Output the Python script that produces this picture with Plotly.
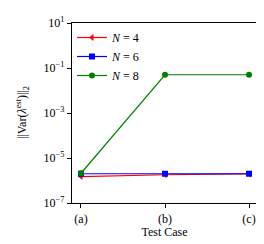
import plotly.graph_objects as go

cases = ["(a)", "(b)", "(c)"]
n4 = [1.5e-6, 1.8e-6, 1.95e-6]
n6 = [2.0e-6, 2.0e-6, 2.0e-6]
n8 = [2.1e-6, 0.05, 0.05]
ytick_vals = [1e-7, 1e-5, 1e-3, 1e-1, 1e1]
ytick_text = ["10<sup>−7</sup>", "10<sup>−5</sup>", "10<sup>−3</sup>", "10<sup>−1</sup>", "10<sup>1</sup>"]
ytitle = "||Var(<i>λ</i><sup>est</sup>)||<sub>2</sub>"

font = "Liberation Serif, DejaVu Serif, serif"
fig = go.Figure()
series = [
    ("<i>N</i> = 4", n4, "red", "triangle-left"),
    ("<i>N</i> = 6", n6, "blue", "square"),
    ("<i>N</i> = 8", n8, "green", "circle"),
]
xi = list(range(len(cases)))
for name, vals, col, sym in series:
    fig.add_trace(go.Scatter(
        x=xi, y=vals, name=name, mode="lines+markers",
        line=dict(color=col, width=1.2),
        marker=dict(color=col, symbol=sym, size=6),
    ))

fig.update_layout(
    width=264, height=244,
    margin=dict(l=64, r=15, t=15, b=49, autoexpand=False),
    plot_bgcolor="white", paper_bgcolor="white",
    font=dict(family=font, size=12, color="black"),
    showlegend=True,
    legend=dict(x=0.0, y=1.0, xanchor="left", yanchor="top",
                bgcolor="rgba(0,0,0,0)", borderwidth=0,
                font=dict(size=12), tracegroupgap=0, itemwidth=30),
    annotations=[dict(text=ytitle, xref="paper", yref="paper",
                      x=-0.27, y=0.5, xanchor="center", yanchor="middle",
                      textangle=-90, showarrow=False, font=dict(size=12))],
)
fig.update_xaxes(
    tickvals=xi, ticktext=cases, range=[-0.107, 2.095],
    showgrid=False, zeroline=False, automargin=False,
    showline=True, linecolor="black", linewidth=1.2, mirror=True,
    ticks="outside", ticklen=4, tickcolor="black",
    title=dict(text="Test Case", standoff=2, font=dict(size=12)),
)
fig.update_yaxes(
    type="log", range=[-7, 1], automargin=False,
    tickvals=ytick_vals, ticktext=ytick_text,
    showgrid=False, zeroline=False,
    showline=True, linecolor="black", linewidth=1.2, mirror=True,
    ticks="outside", ticklen=4, tickcolor="black",
)
fig.write_html("out.html")
